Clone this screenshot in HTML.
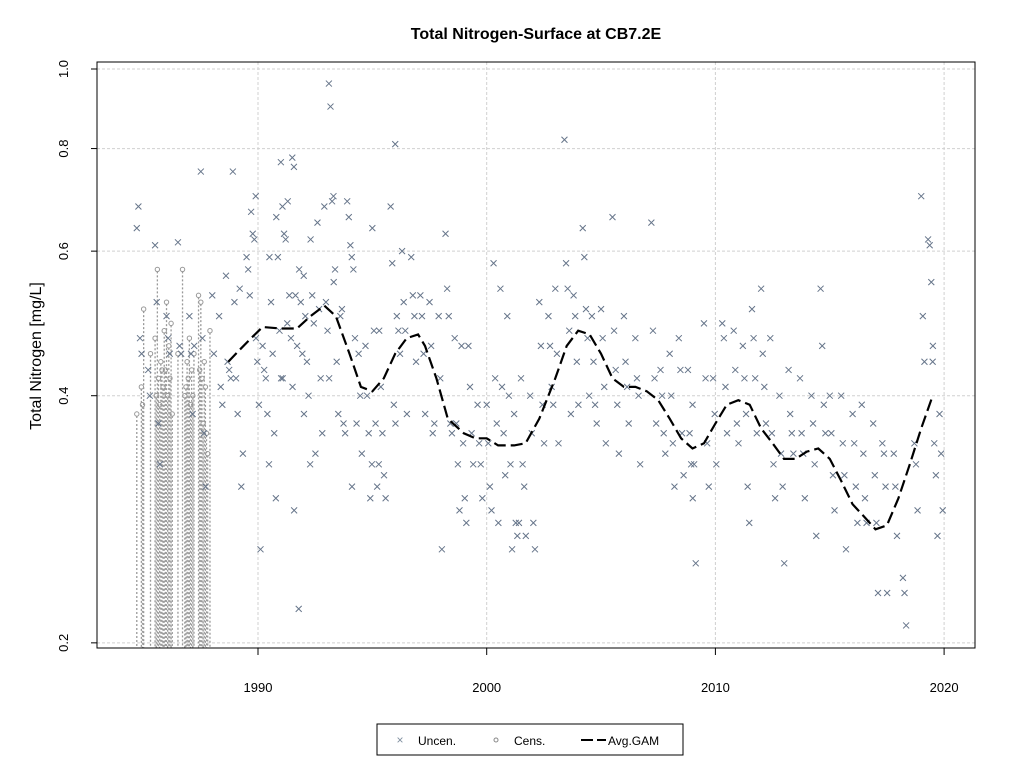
<!DOCTYPE html>
<html><head><meta charset="utf-8"><style>
body{margin:0;background:#fff}
svg{display:block;font-family:"Liberation Sans",sans-serif}
</style></head><body>
<svg id="chart" width="1024" height="768" viewBox="0 0 1024 768" xmlns="http://www.w3.org/2000/svg">
<rect width="1024" height="768" fill="#fff"/>
<text x="536" y="39" text-anchor="middle" font-weight="bold" font-size="16">Total Nitrogen-Surface at CB7.2E</text>
<text transform="translate(41,356) rotate(-90)" text-anchor="middle" font-size="16">Total Nitrogen [mg/L]</text>
<g id="grid"></g>
<g id="cens"></g>
<g id="uncen"></g>
<g id="gam"></g>
<g id="axes"></g>
<rect x="97" y="62" width="878" height="586" fill="none" stroke="#000" stroke-width="1"/>
<g>
<rect x="377" y="724" width="306" height="31" fill="#fff" stroke="#000"/>
<text x="400" y="744" text-anchor="middle" font-size="12" fill="#8090a0">×</text>
<text x="418" y="745" font-size="12">Uncen.</text>
<circle cx="496" cy="740" r="2" fill="none" stroke="#888"/>
<text x="514" y="745" font-size="12">Cens.</text>
<line x1="581" y1="740" x2="606" y2="740" stroke="#000" stroke-width="2" stroke-dasharray="12 4"/>
<text x="608" y="745" font-size="12">Avg.GAM</text>
</g>
</svg>
<script>
const xTicks=[1990,2000,2010,2020];
const yTicks=[0.2,0.4,0.6,0.8,1.0];
const yTickLabels=["0.2","0.4","0.6","0.8","1.0"];
const censYears=[1984.7,1984.9,1985.0,1985.3,1985.5,1985.6,1985.8,1985.9,1986.0,1986.1,1986.2,1986.5,1986.7,1986.8,1986.9,1987.0,1987.2,1987.4,1987.5,1987.6,1987.7,1987.9,
 1985.55,1985.65,1985.7,1985.75,1985.85,1985.95,1986.05,1986.15,1986.25,1986.85,1986.95,1987.05,1987.1,1987.15,1987.45,1987.55,1987.65,1987.75,1987.8,1984.95];
const censVals=[0.38,0.41,0.51,0.45,0.47,0.57,0.43,0.48,0.52,0.46,0.49,0.45,0.57,0.40,0.44,0.47,0.45,0.53,0.52,0.37,0.41,0.48,
 0.40,0.42,0.39,0.44,0.41,0.43,0.40,0.42,0.38,0.41,0.42,0.39,0.43,0.40,0.43,0.42,0.44,0.36,0.34,0.39];
const uncenYears=[1984.7,1985.2,1985.5,1986,1986.5,1987,1987.5,1988,1988.3,1988.6,1988.9,1989.2,1989.5,1989.7,1989.9,1990.2,1990.5,1990.8,1991,1991.3,1991.5,1991.8,1992,1992.3,1992.6,1992.9,1993.1,1993.3,1993.6,1993.9,1994.1,1994.4,1994.7,1995,1995.3,1995.8,1996,1996.3,1996.7,1997.1,1997.5,1997.9,1998.2,1998.6,1998.9,1999.2,1999.6,2000,2000.3,2000.6,2000.9,2001.2,2001.5,2001.9,2002.3,2002.7,2003,2003.4,2003.8,2004.2,2004.6,2005,2005.5,2006,2006.5,2007.2,2007.6,2008,2008.4,2008.8,2009,2009.5,2009.9,2010.3,2010.8,2011.2,2011.6,2012,2012.4,2012.8,2013.2,2013.7,2014.2,2014.6,2015,2015.5,2016,2016.4,2016.9,2017.3,2017.8,2018.2,2018.7,2019,2019.3,2019.5,2019.8];
const uncenVals=[[0.64,0.68,0.47,0.45],[0.43,0.40],[0.61,0.52,0.37,0.33],[0.50,0.47,0.45],[0.615,0.46,0.45],[0.50,0.45,0.38,0.46],[0.75,0.47,0.36,0.31],[0.53,0.45],[0.50,0.41,0.39],[0.56,0.44,0.43,0.42],[0.75,0.52,0.42,0.38],[0.54,0.31,0.34],[0.59,0.57,0.53],[0.67,0.63,0.62,0.47],[0.70,0.44,0.39,0.26],[0.46,0.43,0.42,0.38,0.33],[0.59,0.52,0.45,0.36,0.30],[0.66,0.59,0.48,0.42,0.42],[0.77,0.68,0.63,0.62,0.49],[0.69,0.53,0.47,0.41,0.29],[0.78,0.76,0.53,0.46,0.22],[0.57,0.52,0.45,0.38],[0.56,0.50,0.44,0.40,0.33],[0.62,0.53,0.49,0.34],[0.65,0.51,0.42,0.36],[0.68,0.52,0.48,0.42],[0.96,0.90,0.69,0.55],[0.70,0.57,0.44,0.38],[0.50,0.51,0.37,0.36],[0.69,0.66,0.61,0.31],[0.59,0.57,0.47,0.37],[0.45,0.40,0.34],[0.46,0.40,0.36,0.30,0.33],[0.64,0.48,0.37,0.31,0.33],[0.48,0.41,0.36,0.32,0.30],[0.68,0.58,0.39,0.37],[0.81,0.50,0.48,0.45],[0.60,0.52,0.48,0.38],[0.59,0.53,0.50,0.44],[0.53,0.50,0.45,0.38],[0.52,0.46,0.36,0.37],[0.50,0.42,0.26],[0.63,0.54,0.50,0.37,0.36],[0.47,0.37,0.33,0.29],[0.46,0.35,0.30,0.28],[0.46,0.41,0.36,0.33],[0.39,0.35,0.33,0.30],[0.39,0.35,0.31,0.29],[0.58,0.42,0.37,0.28],[0.54,0.41,0.36,0.32],[0.50,0.40,0.33,0.26],[0.38,0.28,0.27,0.28],[0.42,0.33,0.31,0.27],[0.40,0.36,0.28,0.26],[0.52,0.46,0.39,0.35],[0.50,0.46,0.41,0.39],[0.54,0.45,0.35],[0.82,0.58,0.54,0.48,0.38],[0.53,0.50,0.44,0.39],[0.64,0.59,0.51,0.47,0.40],[0.50,0.44,0.39,0.37],[0.51,0.47,0.41,0.35],[0.66,0.48,0.43,0.39,0.34],[0.50,0.44,0.41,0.37],[0.47,0.42,0.40,0.33],[0.65,0.48,0.42,0.37],[0.43,0.40,0.36,0.34],[0.45,0.40,0.35,0.31],[0.47,0.43,0.36,0.32],[0.43,0.36,0.33,0.30],[0.39,0.33,0.25],[0.49,0.42,0.35,0.31],[0.42,0.38,0.33],[0.49,0.47,0.41,0.36],[0.48,0.43,0.37,0.35],[0.46,0.42,0.38,0.31,0.28],[0.51,0.47,0.42,0.36],[0.54,0.45,0.41,0.37],[0.47,0.36,0.33,0.30],[0.40,0.34,0.31,0.25],[0.43,0.38,0.36,0.34],[0.42,0.36,0.34,0.30],[0.40,0.37,0.33,0.27],[0.54,0.46,0.39,0.36],[0.40,0.36,0.32,0.29],[0.40,0.35,0.32,0.26],[0.38,0.35,0.31,0.28],[0.39,0.34,0.30,0.28],[0.37,0.32,0.28,0.23],[0.35,0.34,0.31,0.23],[0.34,0.31,0.27],[0.24,0.23,0.21],[0.35,0.33,0.29],[0.70,0.50,0.44],[0.62,0.61,0.55,0.46],[0.44,0.35,0.32,0.27],[0.38,0.34,0.29]];
const gamYears=[1988.7,1989.2,1989.7,1990.2,1991,1991.7,1992.3,1992.9,1993.4,1994,1994.5,1995,1995.5,1996,1996.5,1997,1997.3,1997.8,1998.3,1999,1999.5,2000,2000.5,2001.2,2001.7,2002.3,2003,2003.5,2004,2004.5,2005,2005.5,2006,2006.5,2007,2007.5,2008,2008.5,2009,2009.5,2010,2010.5,2011,2011.5,2012,2012.5,2013,2013.5,2014,2014.5,2015,2015.5,2016,2016.5,2017,2017.5,2018,2018.5,2019,2019.5];
const gamVals=[0.44,0.455,0.47,0.485,0.483,0.483,0.50,0.515,0.50,0.45,0.41,0.405,0.42,0.45,0.47,0.475,0.46,0.42,0.375,0.36,0.355,0.355,0.348,0.348,0.35,0.375,0.42,0.46,0.48,0.475,0.45,0.42,0.41,0.41,0.405,0.395,0.375,0.355,0.345,0.35,0.37,0.39,0.395,0.39,0.365,0.35,0.335,0.335,0.342,0.345,0.335,0.315,0.295,0.285,0.275,0.278,0.30,0.33,0.365,0.40];

const NS="http://www.w3.org/2000/svg";
const X=y=>258+(y-1990)*22.87;
const Y=v=>69-Math.log10(v)*821;
const BOTTOM=648;
function mk(tag,attrs,parent){const e=document.createElementNS(NS,tag);for(const k in attrs)e.setAttribute(k,attrs[k]);parent.appendChild(e);return e;}
const grid=document.getElementById('grid'),axes=document.getElementById('axes');
xTicks.forEach(t=>{
  const l=mk('line',{x1:X(t),x2:X(t),y1:62,y2:648,stroke:'#d0d0d0','stroke-dasharray':'3 2'},grid);
  
  
  const tk=mk('line',{x1:X(t),x2:X(t),y1:648,y2:655,stroke:'#000'},axes);
  
  
  const tx=mk('text',{x:X(t),y:692,'text-anchor':'middle','font-size':'13'},axes);
  tx.textContent=t;
  
  
});
yTicks.forEach((t,i)=>{
  const l=mk('line',{x1:97,x2:975,y1:Y(t),y2:Y(t),stroke:'#d0d0d0','stroke-dasharray':'3 2'},grid);
  
  
  const tk=mk('line',{x1:91,x2:97,y1:Y(t),y2:Y(t),stroke:'#000'},axes);
  
  
  const tx=mk('text',{transform:`translate(68,${Y(t)}) rotate(-90)`,'text-anchor':'middle','font-size':'13'},axes);
  tx.textContent=yTickLabels[i];
  
  
});
const cg=document.getElementById('cens');
censYears.forEach((yr,i)=>{
  const x=X(yr),y=Y(censVals[i]);
  const l=mk('line',{x1:x,x2:x,y1:y+2,y2:BOTTOM,stroke:'#999','stroke-width':'1.3','stroke-dasharray':'2 2'},cg);
  
  
  const c=mk('circle',{cx:x,cy:y,r:2.2,fill:'none',stroke:'#999'},cg);
  
  
});
const ug=document.getElementById('uncen');
uncenYears.forEach((yr,i)=>{
  uncenVals[i].forEach((v,j)=>{
    const x=X(yr+j*0.07),y=Y(v);
    const p=mk('path',{d:`M${x-3},${y-3}L${x+3},${y+3}M${x-3},${y+3}L${x+3},${y-3}`,stroke:'#66758a','stroke-width':'1',fill:'none'},ug);
    
    
  });
});
const gg=document.getElementById('gam');
const gp=mk('path',{d:gamYears.map((yr,i)=>(i?'L':'M')+X(yr).toFixed(1)+','+Y(gamVals[i]).toFixed(1)).join(''),fill:'none',stroke:'#000','stroke-width':'2.2','stroke-dasharray':'12 5'},gg);


</script>
</body></html>
